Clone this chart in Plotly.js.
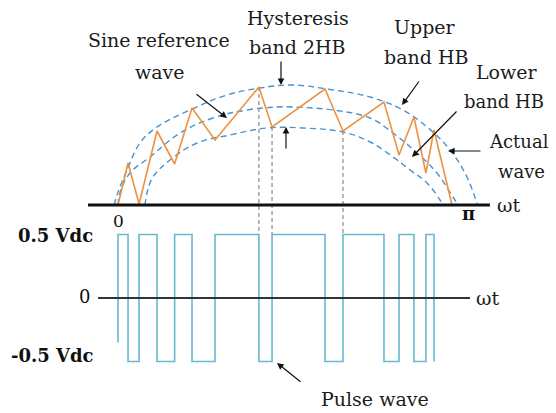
<!DOCTYPE html>
<html>
<head>
<meta charset="utf-8">
<script src="https://cdn.plot.ly/plotly-3.0.1.min.js"></script>
<style>
  html, body { margin: 0; padding: 0; background: #fff; }
  #chart { width: 556px; height: 413px; }
</style>
</head>
<body>
<div id="chart"></div>
<script>
// Hysteresis current control over one half cycle.
// Angles are ωt in degrees (0 … 180 ↔ 0 … π); currents are per-unit of the reference peak.

// Switching instants: the actual current turns at each one and the pulse changes level there
const switchAngles  = [0, 5.2, 10.9, 20.2, 29.3, 38.3, 50.2, 72.9, 79.7, 107.1, 116.4, 137.6, 145.4, 153.1, 159.3, 163.5];
const actualCurrent = [0, 0.42, 0.01, 0.74, 0.41, 0.97, 0.65, 1.18, 0.78, 1.16, 0.74, 1.03, 0.50, 0.88, 0.32, 0.75];
const actualEndAngle = 172.8;
const actualEndCurrent = 0;

// Inverter output pulse (Vdc units), one level per switching instant
const pulseStartLevel = -0.35;
const pulseLevels = [0.5, -0.5, 0.5, -0.5, 0.5, -0.5, 0.5, -0.5, 0.5, -0.5, 0.5, -0.5, 0.5, -0.5, 0.5, -0.5];

// Sine reference and the two hysteresis band limits
const upperBandX = [-2, -0.5, 4.7, 11.4, 20.2, 37.2, 56.4, 73.5, 90, 108.1, 130.4, 147.4, 159.9, 171.8, 180.5, 186];
const upperBandY = [0, 0.10, 0.35, 0.62, 0.78, 0.95, 1.10, 1.17, 1.20, 1.16, 1.08, 0.95, 0.78, 0.55, 0.28, 0.0];
const referenceX = [0, 1.0, 6.2, 16.6, 32.1, 49.1, 66.7, 82.3, 90.5, 111.2, 130.4, 142.3, 154.7, 165.0, 173.3, 176];
const referenceY = [0, 0.12, 0.32, 0.48, 0.72, 0.87, 0.95, 0.98, 0.98, 0.95, 0.87, 0.72, 0.52, 0.32, 0.08, 0];
const lowerBandX = [14, 15.0, 18.1, 26.9, 40.9, 57.9, 77.1, 95.7, 116.4, 130.4, 142.3, 151.1, 159.9, 166.6, 168];
const lowerBandY = [0, 0.12, 0.28, 0.45, 0.62, 0.70, 0.77, 0.77, 0.73, 0.63, 0.48, 0.35, 0.22, 0.05, 0];

// Switching instants traced down to the pulse train
const guideIndices = [7, 8, 10];

const xRange  = [-61.04, 226.6];
const yRange  = [-2.08, 2.05];
const y2Range = [-0.906, 2.346];

function y2ToY(v) {
  const f = (v - y2Range[0]) / (y2Range[1] - y2Range[0]);
  return yRange[0] + f * (yRange[1] - yRange[0]);
}

const W = 556, H = 413;
const px = x => x / W;
const py = y => 1 - y / H;

const bandBlue = '#4a92d0';
const traces = [];

[[upperBandX, upperBandY], [referenceX, referenceY], [lowerBandX, lowerBandY]].forEach(([xs, ys]) => {
  traces.push({
    x: xs, y: ys, type: 'scatter', mode: 'lines', xaxis: 'x', yaxis: 'y',
    line: { color: bandBlue, width: 1.4, dash: '6px,4px', shape: 'spline', smoothing: 1.1 },
    hoverinfo: 'skip', showlegend: false
  });
});

guideIndices.forEach(i => {
  traces.push({
    x: [switchAngles[i], switchAngles[i]],
    y: [actualCurrent[i], y2ToY(pulseLevels[0])],
    type: 'scatter', mode: 'lines', xaxis: 'x', yaxis: 'y',
    line: { color: '#8a8a8a', width: 1.2, dash: '4px,3px' },
    hoverinfo: 'skip', showlegend: false
  });
});

traces.push({
  x: switchAngles.concat([actualEndAngle]),
  y: actualCurrent.concat([actualEndCurrent]),
  type: 'scatter', mode: 'lines', xaxis: 'x', yaxis: 'y',
  line: { color: '#ee9140', width: 1.6 },
  hoverinfo: 'skip', showlegend: false
});

traces.push({
  x: [switchAngles[0]].concat(switchAngles),
  y: [pulseStartLevel].concat(pulseLevels),
  type: 'scatter', mode: 'lines', xaxis: 'x', yaxis: 'y2',
  line: { color: '#68b8d0', width: 1.6, shape: 'hv' },
  hoverinfo: 'skip', showlegend: false
});

const serif = 'DejaVu Serif, Liberation Serif, serif';
const textFont = { family: serif, size: 19, color: '#1c1c1c' };
const smallFont = { family: serif, size: 18, color: '#1c1c1c' };
const boldFont = { family: serif, size: 18, color: '#111', weight: 'bold' };

function label(text, x, y, font) {
  return { text: text, x: px(x), y: py(y), xref: 'paper', yref: 'paper',
           xanchor: 'center', yanchor: 'middle', showarrow: false, font: font || textFont };
}
function arrow(tailX, tailY, headX, headY) {
  return { text: '', x: px(headX), y: py(headY), xref: 'paper', yref: 'paper',
           ax: tailX - headX, ay: tailY - headY, showarrow: true,
           arrowhead: 2, arrowsize: 1.1, arrowwidth: 1.2, arrowcolor: '#111' };
}

const annotations = [
  label('Sine reference', 159, 40),
  label('wave', 160, 72),
  label('Hysteresis', 298, 18),
  label('band 2HB', 297, 47),
  label('Upper', 425, 27),
  label('band HB', 426, 57),
  label('Lower', 507, 72),
  label('band HB', 504, 101, smallFont),
  label('Actual', 519, 141, smallFont),
  label('wave', 521, 171, smallFont),
  label('Pulse wave', 375, 399),
  label('0', 118, 221, { family: serif, size: 17, color: '#111' }),
  label('π', 468, 213, boldFont),
  label('ωt', 508, 205, textFont),
  label('0', 84, 296, { family: serif, size: 18, color: '#111' }),
  label('ωt', 487, 298, textFont),
  label('0.5 Vdc', 55, 235, boldFont),
  label('-0.5 Vdc', 52, 355, boldFont),
  arrow(195, 93, 227, 118),
  arrow(281, 60, 281, 85),
  arrow(286, 150, 286, 127),
  arrow(420, 80, 402, 105),
  arrow(458, 110, 412, 157),
  arrow(482, 151, 448, 151),
  arrow(302, 383, 277, 363)
];

const shapes = [
  { type: 'line', xref: 'x', yref: 'y', x0: -15.5, x1: 192.4, y0: 0, y1: 0,
    line: { color: '#111', width: 3 } },
  { type: 'line', xref: 'x', yref: 'y2', x0: -10.3, x1: 182.1, y0: 0, y1: 0,
    line: { color: '#333', width: 2 } }
];

const layout = {
  width: W, height: H,
  margin: { l: 0, r: 0, t: 0, b: 0, pad: 0 },
  paper_bgcolor: '#fff', plot_bgcolor: '#fff',
  xaxis: { range: xRange, visible: false, fixedrange: true },
  yaxis: { range: yRange, visible: false, fixedrange: true },
  yaxis2: { range: y2Range, visible: false, overlaying: 'y', anchor: 'x', fixedrange: true },
  showlegend: false,
  annotations: annotations,
  shapes: shapes
};

Plotly.newPlot('chart', traces, layout, { staticPlot: true, displayModeBar: false });
</script>
</body>
</html>
